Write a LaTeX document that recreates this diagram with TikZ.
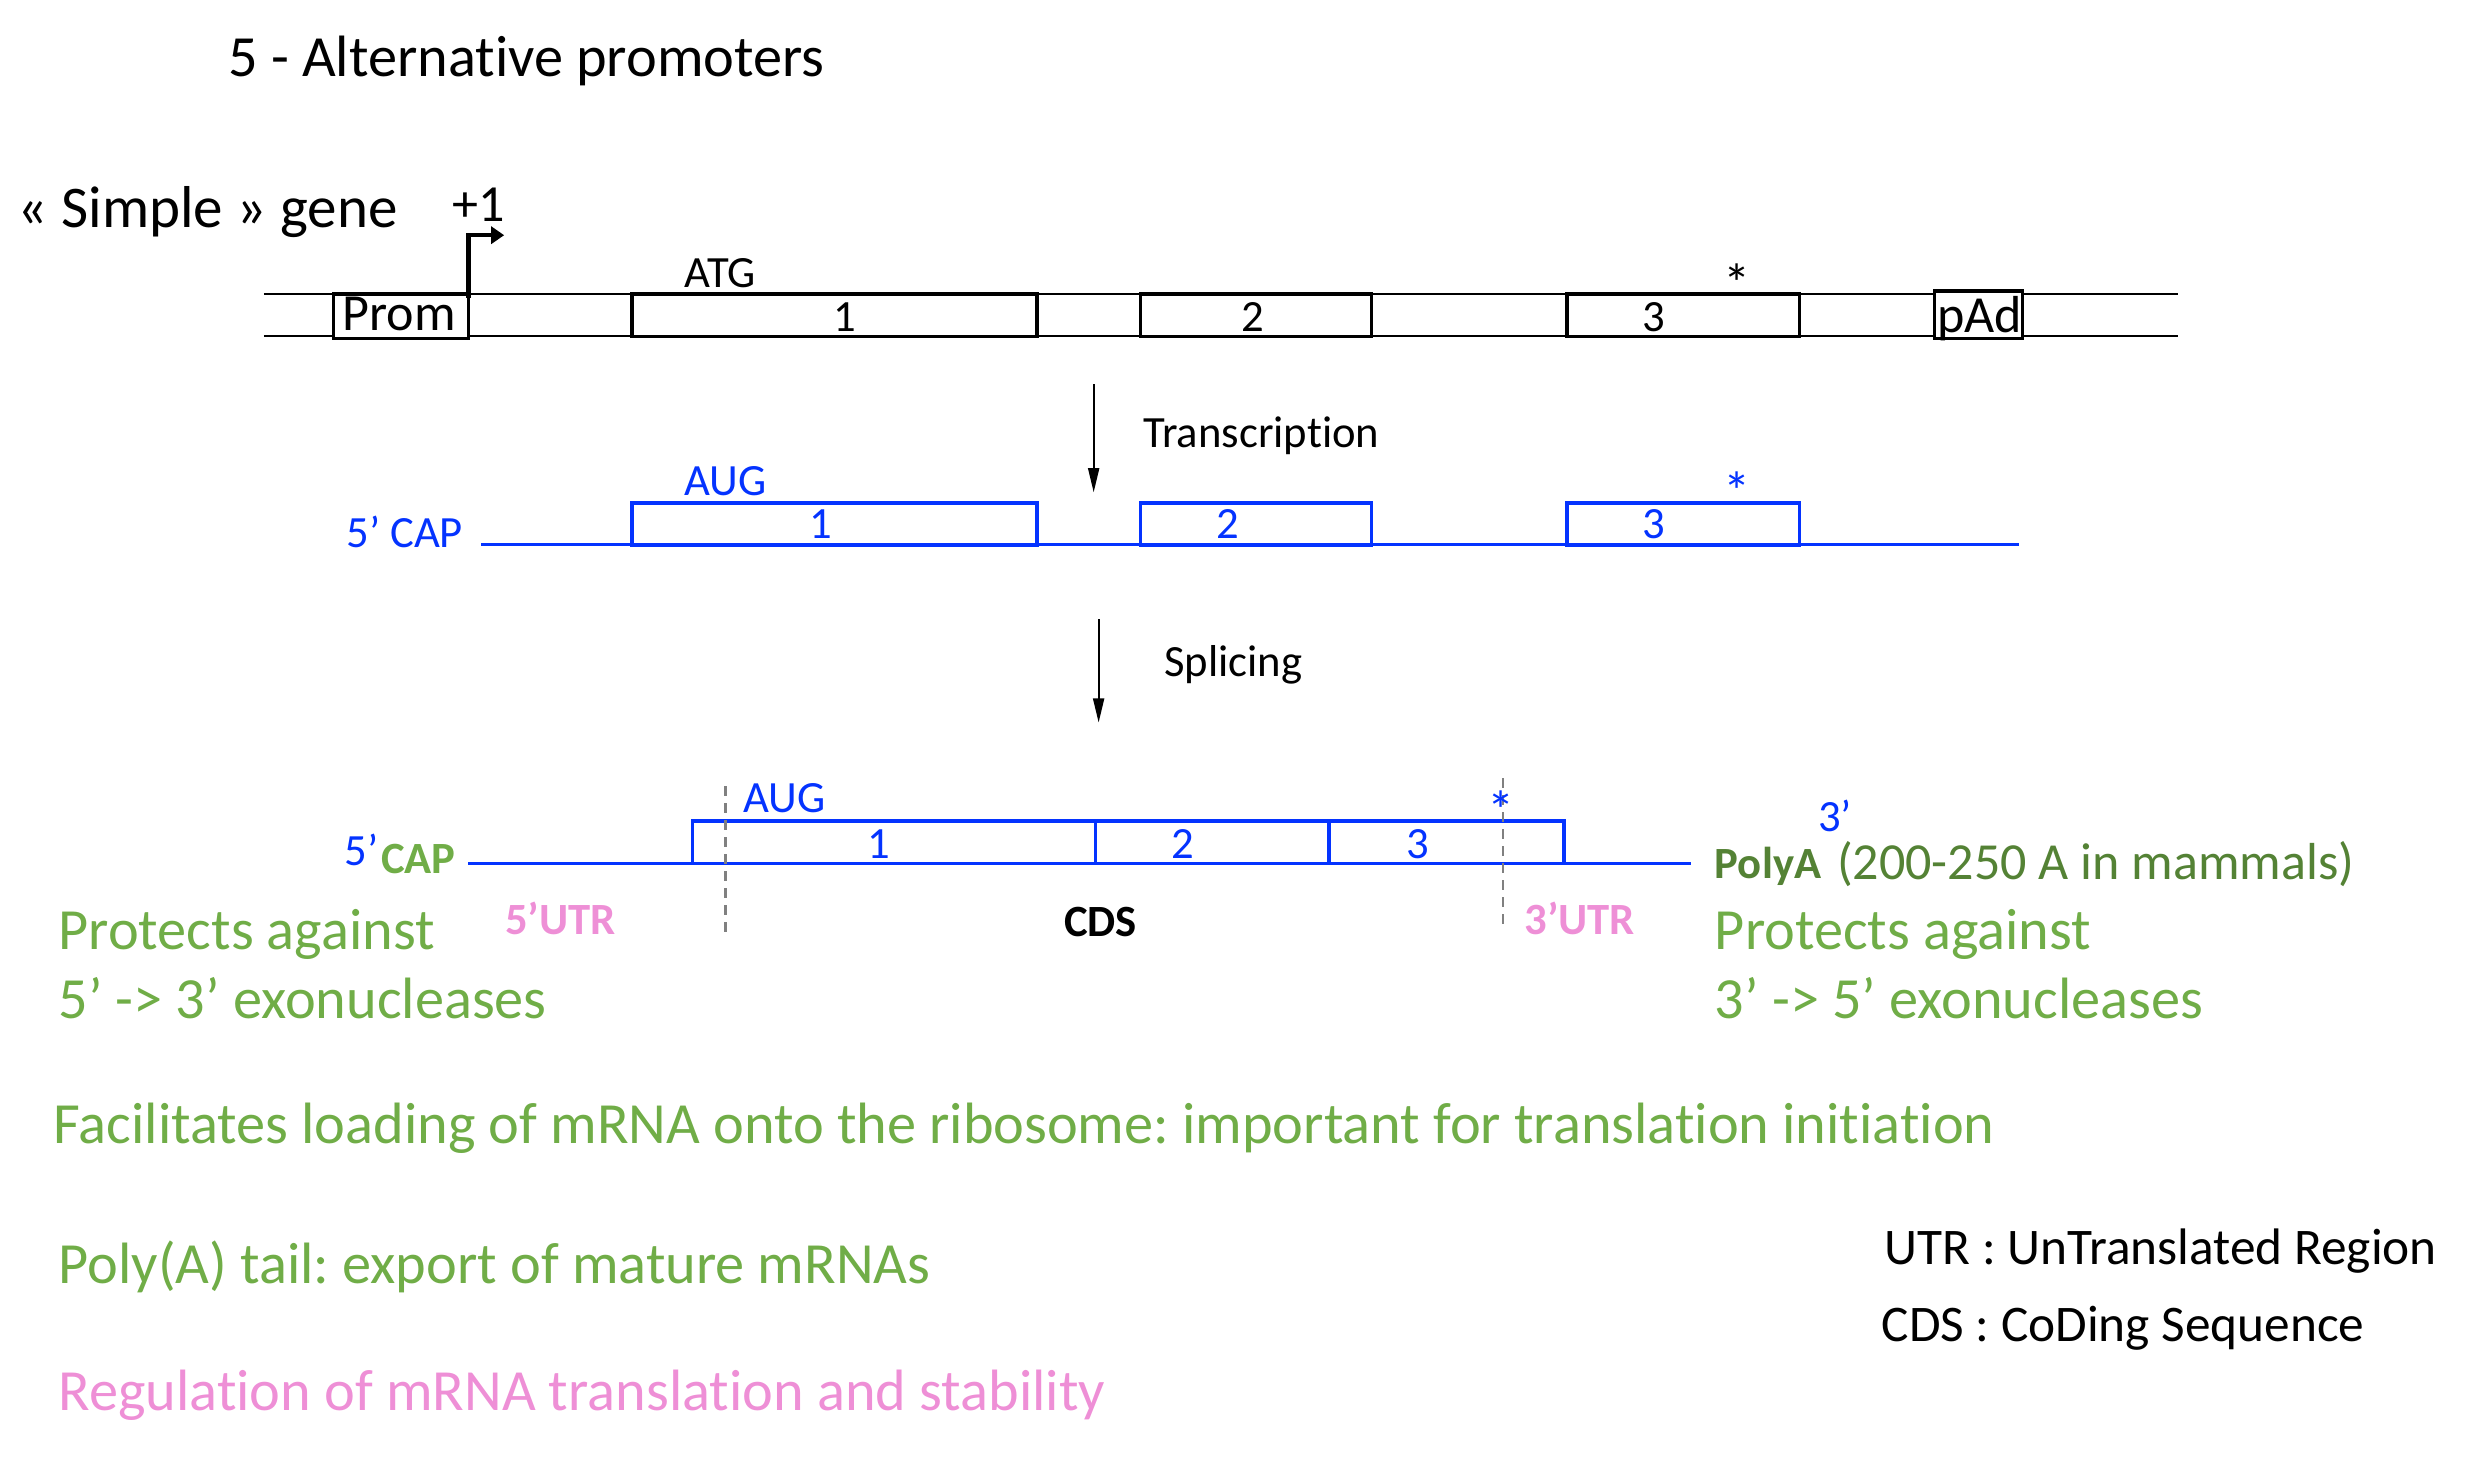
\documentclass[tikz,border=0pt]{standalone}
\usepackage{fontspec}
\setmainfont{Carlito}[Ligatures={TeX,NoCommon}]
\usetikzlibrary{arrows.meta,fit}
\definecolor{myblue}{HTML}{0433FF}
\definecolor{mygreen}{HTML}{70AD47}
\definecolor{dkgreen}{HTML}{548235}
\definecolor{mypink}{HTML}{EE8FD6}
\definecolor{dashgray}{HTML}{808080}
\frenchspacing
\begin{document}
\begin{tikzpicture}[x=0.009925cm,y=-0.009925cm,
  txt/.style={inner sep=0pt, outer sep=0pt, anchor=base west},
  ctxt/.style={inner sep=0pt, outer sep=0pt, anchor=base},
  big/.style={font=\fontsize{16.58}{19}\selectfont},
  bigger/.style={font=\fontsize{16.8}{19}\selectfont},
  legend/.style={font=\fontsize{14.6}{17}\selectfont},
  mid/.style={font=\fontsize{14.8}{17}\selectfont},
  small/.style={font=\fontsize{12.7}{15}\selectfont},
  smallb/.style={font=\fontsize{12.7}{15}\selectfont\bfseries},
  stopmark/.style={inner sep=0pt, outer sep=0pt, anchor=base, font=\fontsize{15.5}{17}\selectfont},
  dnaline/.style={line width=0.6pt},
  exon/.style={draw, line width=1pt, inner sep=0pt, outer sep=0pt},
  bexon/.style={exon, draw=myblue},
  rnaline/.style={myblue, line width=0.9pt},
  flow/.style={line width=0.5pt, -{Triangle[length=0.24cm,width=0.11cm]}},
  utr/.style={dashgray, line width=0.6pt, dash pattern=on 0.1cm off 0.07cm},
]
\useasboundingbox (0,0) rectangle (2509,1489);

% titles
\node[txt, big] (title) at (230,77) {5 - Alternative promoters};
\node[txt, bigger] (simple) at (18,229) {« Simple » gene};

% ---------- DNA row ----------
\coordinate (dnaTL) at (266,296);
\coordinate (dnaTR) at (2195,296);
\coordinate (dnaBL) at (266,339);
\coordinate (dnaBR) at (2195,339);
\draw[dnaline] (dnaTL) -- (dnaTR);
\draw[dnaline] (dnaBL) -- (dnaBR);
\node[exon, mid, fill=white, fit={(336,296) (472,341)}] (prom) {};
\node[ctxt, mid] (promtxt) at (402,333) {Prom};
\node[exon, fill=white, fit={(637,296) (1045,339)}] (d1) {};
\node[exon, fill=white, fit={(1149,296) (1382,339)}] (d2) {};
\node[exon, fill=white, fit={(1579,296) (1813,339)}] (d3) {};
\node[exon, fill=white, fit={(1949,293) (2038,341)}] (pad) {};
\node[ctxt, mid] (padtxt) at (1995,335) {pAd};
\node[ctxt, small] (d1n) at (851,334) {1};
\node[ctxt, small] (d2n) at (1262,334) {2};
\node[ctxt, small] (d3n) at (1666,334) {3};
\node[txt, small] (atg) at (690,290) {ATG};
\node[stopmark] (dstar) at (1750,305) {*};
\coordinate (tssA) at (472,300);
\coordinate (tssB) at (508,237);
\draw[line width=1.3pt, -{Triangle[length=0.13cm,width=0.17cm]}] (tssA) |- (tssB);
\node[txt, mid] (plus1) at (456,223) {+1};

% ---------- Transcription ----------
\coordinate (ta1) at (1102,387);
\coordinate (ta2) at (1102,496);
\draw[flow] (ta1) -- (ta2);
\node[txt, small] (transc) at (1152,451) {Transcription};

% ---------- pre-mRNA ----------
\node[txt, small, myblue] (cap1) at (349,552) {5’ CAP};
\coordinate (preL) at (485,549);
\coordinate (preR) at (2034,549);
\draw[rnaline] (preL) -- (preR);
\node[bexon, fill=white, fit={(637,507) (1045,549)}] (p1) {};
\node[bexon, fill=white, fit={(1149,507) (1382,549)}] (p2) {};
\node[bexon, fill=white, fit={(1579,507) (1813,549)}] (p3) {};
\node[ctxt, small, myblue] (p1n) at (827,543) {1};
\node[ctxt, small, myblue] (p2n) at (1237,543) {2};
\node[ctxt, small, myblue] (p3n) at (1666,543) {3};
\node[txt, small, myblue] (aug1) at (690,499) {AUG};
\node[stopmark, myblue] (pstar) at (1750,514) {*};

% ---------- Splicing ----------
\coordinate (sa1) at (1107,624);
\coordinate (sa2) at (1107,728);
\draw[flow] (sa1) -- (sa2);
\node[txt, small] (splic) at (1173,682) {Splicing};

% ---------- mature mRNA ----------
\coordinate (matL) at (472,870);
\coordinate (matR) at (1704,870);
\draw[rnaline] (matL) -- (matR);
\node[bexon, fill=white, fit={(698,827) (1104,870)}] (m1) {};
\node[bexon, fill=white, fit={(1104,827) (1339,870)}] (m2) {};
\node[bexon, fill=white, fit={(1339,827) (1576,870)}] (m3) {};
\node[ctxt, small, myblue] (m1n) at (886,865) {1};
\node[ctxt, small, myblue] (m2n) at (1192,865) {2};
\node[ctxt, small, myblue] (m3n) at (1429,865) {3};
\coordinate (du1a) at (731,792);
\coordinate (du1b) at (731,944);
\coordinate (du2a) at (1514,784);
\coordinate (du2b) at (1514,931);
\draw[utr] (du1a) -- (du1b);
\draw[utr] (du2a) -- (du2b);
\node[txt, small, myblue] (aug2) at (749,819) {AUG};
\node[stopmark, myblue] (mstar) at (1512,836) {*};
\node[txt, small, myblue] (five) at (347,872) {5’};
\node[txt, smallb, mygreen] (cap2) at (384,880) {CAP};
\node[txt, small, myblue] (three) at (1832,838) {3’};
\node[txt, smallb, dkgreen] (polya) at (1728,885) {PolyA};
\node[txt, mid, dkgreen] (polyanote) at (1851,886) {(200-250 A in mammals)};
\node[txt, smallb, mypink] (utr5) at (509,942) {5’UTR};
\node[ctxt, smallb] (cds) at (1109,944) {CDS};
\node[txt, smallb, mypink] (utr3) at (1536,942) {3’UTR};

% ---------- annotations ----------
\node[txt, big, mygreen] (prot1a) at (59,957) {Protects against};
\node[txt, big, mygreen] (prot1b) at (59,1026) {5’ -> 3’ exonucleases};
\node[txt, big, mygreen] (prot2a) at (1728,957) {Protects against};
\node[txt, big, mygreen] (prot2b) at (1728,1026) {3’ -> 5’ exonucleases};
\node[txt, big, mygreen] (facil) at (54,1152) {Facilitates loading of mRNA onto the ribosome: important for translation initiation};
\node[txt, big, mygreen] (polyt) at (59,1293) {Poly(A) tail: export of mature mRNAs};
\node[txt, big, mypink] (regul) at (59,1421) {Regulation of mRNA translation and stability};
\node[txt, legend] (leg1) at (1899,1274) {UTR : UnTranslated Region};
\node[txt, legend] (leg2) at (1896,1352) {CDS : CoDing Sequence};
\end{tikzpicture}
\end{document}
